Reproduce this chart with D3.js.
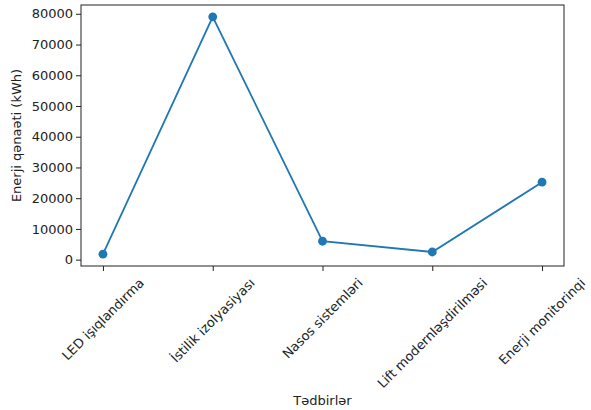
<!DOCTYPE html>
<html>
<head>
<meta charset="utf-8">
<script src="https://cdn.jsdelivr.net/npm/d3@7"></script>
<style>
  body { margin: 0; background: #fff; }
  text { font-family: "DejaVu Sans", sans-serif; fill: #222; }
</style>
</head>
<body>
<div id="chart"></div>
<script>
(function(){
  'use strict';

  // Data.
  var categories = ["LED işıqlandırma", "İstilik izolyasiyası", "Nasos sistemləri", "Lift modernləşdirilməsi", "Enerji monitorinqi"];
  var savings = [1800, 79000, 6000, 2500, 25200];
  var yTicks = [0, 10000, 20000, 30000, 40000, 50000, 60000, 70000, 80000];

  var W = 591, H = 410;
  var left = 81, right = 564, top = 5, bottom = 266;
  var fontSize = 13;

  var svg = d3.select("#chart").append("svg")
      .attr("width", W).attr("height", H);

  // matplotlib-like 5% margins
  var n = categories.length;
  var xPad = (n - 1) * 0.05;
  var x = d3.scaleLinear().domain([-xPad, n - 1 + xPad]).range([left, right]);
  var ext = d3.extent(savings);
  var yPad = (ext[1] - ext[0]) * 0.05;
  var y = d3.scaleLinear().domain([ext[0] - yPad, ext[1] + yPad]).range([bottom, top]);

  // Y axis
  var yAxis = svg.append("g")
      .attr("transform", "translate(" + left + ",0)")
      .call(d3.axisLeft(y).tickValues(yTicks).tickSize(5).tickPadding(3).tickFormat(d3.format("d")));
  yAxis.select(".domain").remove();
  yAxis.selectAll("line").attr("stroke", "#222").attr("stroke-width", 1);
  yAxis.selectAll("text").style("font-size", fontSize + "px").style("font-family", "DejaVu Sans").attr("fill", "#222");

  // X axis ticks
  var xAxis = svg.append("g")
      .attr("transform", "translate(0," + bottom + ")")
      .call(d3.axisBottom(x).tickValues(d3.range(n)).tickSize(5).tickFormat(""));
  xAxis.select(".domain").remove();
  xAxis.selectAll("line").attr("stroke", "#222").attr("stroke-width", 1);

  // rotated category labels, bounding box centred on the tick
  var labelTop = bottom + 5 + 5;
  categories.forEach(function(c, i) {
    var t = svg.append("text")
        .attr("text-anchor", "middle")
        .attr("dominant-baseline", "central")
        .style("font-size", fontSize + "px")
        .text(c);
    var w = t.node().getComputedTextLength();
    var h = fontSize * 1.0;
    var bh = (w + h) * Math.SQRT1_2;
    var cx = x(i), cy = labelTop + bh / 2;
    t.attr("transform", "translate(" + cx + "," + cy + ") rotate(-45)");
  });

  // frame
  svg.append("rect")
      .attr("x", left).attr("y", top)
      .attr("width", right - left).attr("height", bottom - top)
      .attr("fill", "none").attr("stroke", "#222").attr("stroke-width", 1);

  // line + markers
  var line = d3.line()
      .x(function(d, i) { return x(i); })
      .y(function(d) { return y(d); });

  svg.append("path")
      .datum(savings)
      .attr("d", line)
      .attr("fill", "none")
      .attr("stroke", "#1f77b4")
      .attr("stroke-width", 1.8);

  svg.selectAll("circle.pt")
      .data(savings)
      .enter()
      .append("circle")
      .attr("class", "pt")
      .attr("cx", function(d, i) { return x(i); })
      .attr("cy", function(d) { return y(d); })
      .attr("r", 4.4)
      .attr("fill", "#1f77b4");

  // axis titles
  svg.append("text")
      .attr("text-anchor", "middle")
      .attr("transform", "translate(21," + ((top + bottom) / 2) + ") rotate(-90)")
      .style("font-size", fontSize + "px")
      .text("Enerji qənaəti (kWh)");

  svg.append("text")
      .attr("text-anchor", "middle")
      .attr("x", (left + right) / 2)
      .attr("y", 405)
      .style("font-size", fontSize + "px")
      .text("Tədbirlər");
})();
</script>
</body>
</html>
